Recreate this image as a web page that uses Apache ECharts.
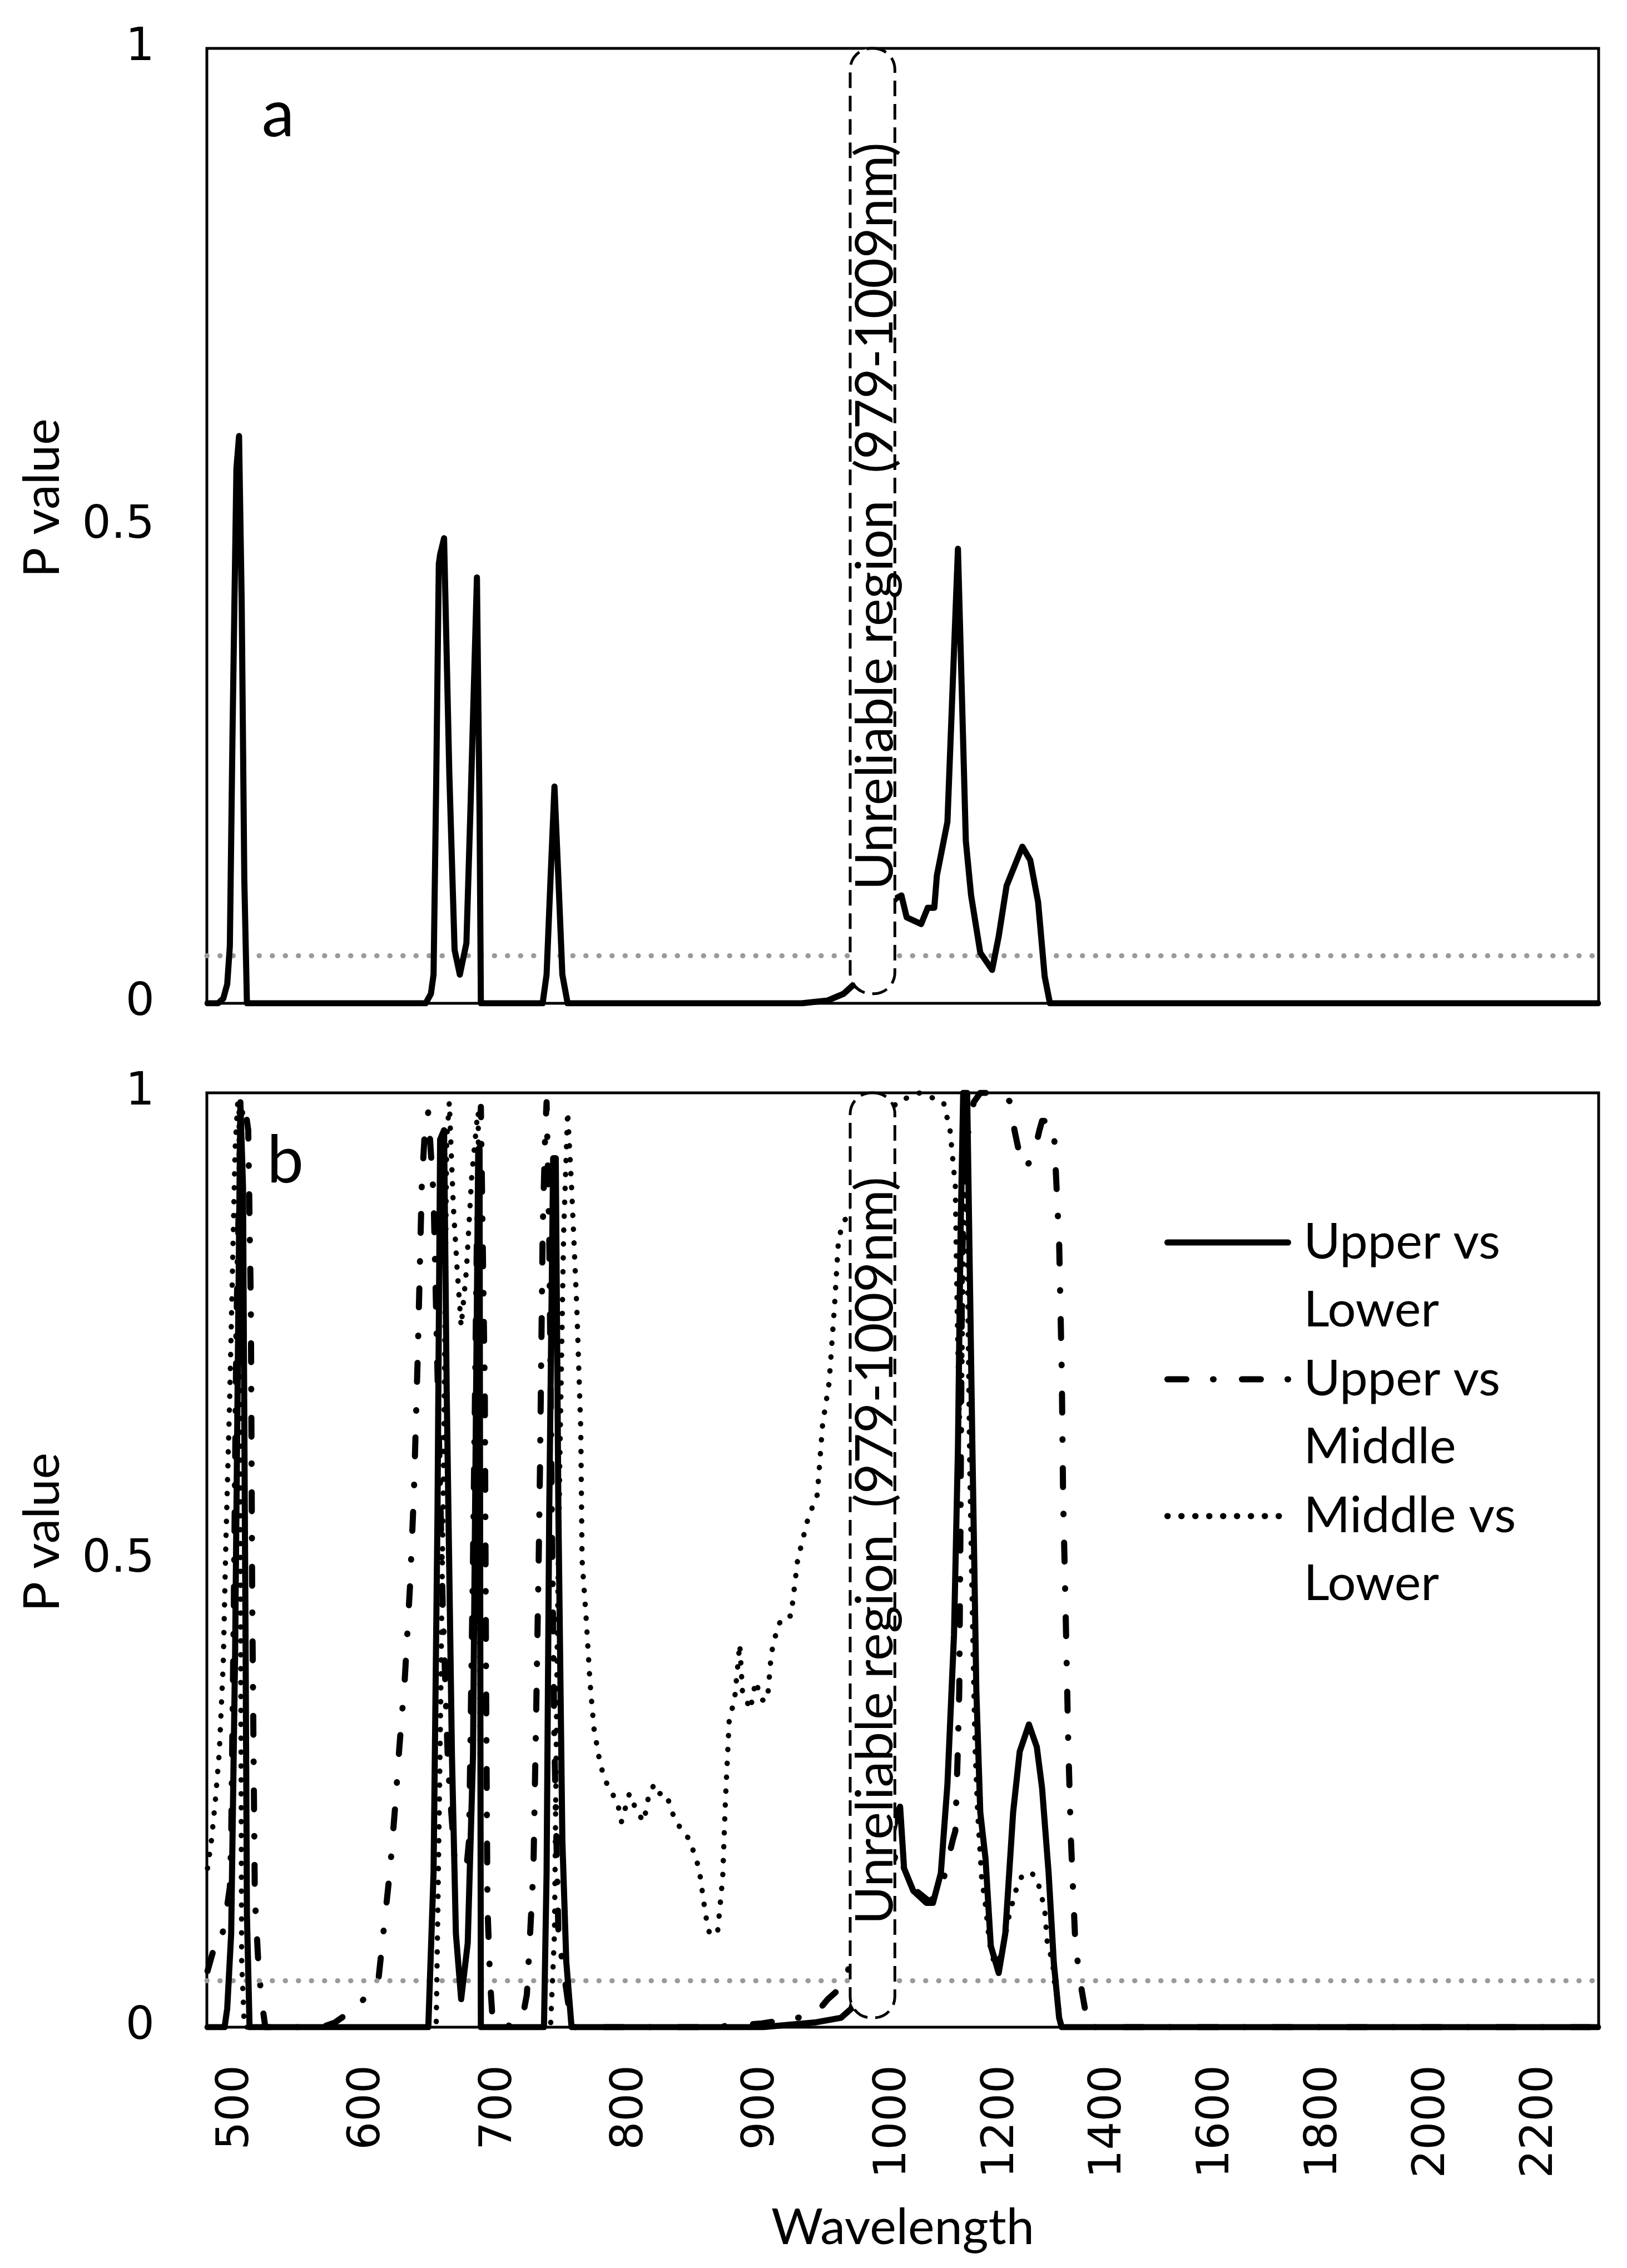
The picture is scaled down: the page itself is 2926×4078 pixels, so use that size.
<!DOCTYPE html>
<html>
<head>
<meta charset="utf-8">
<title>P value by wavelength</title>
<script src="https://cdn.jsdelivr.net/npm/echarts@6/dist/echarts.min.js"></script>
<style>
  html, body { margin: 0; padding: 0; background: #fff; }
  #main { width: 2926px; height: 4078px; }
</style>
</head>
<body>
<div id="main"></div>
<script>
// wavelength bands on the category axis: 1 nm steps below 1000 nm,
// 82 bands per 200 nm above (the sampling gets coarser there)
var bandStart = [478, 1000];
var bandEnd = [999, 2308];
var bandStep = [1, 200 / 82];
var tickLabels = [500, 600, 700, 800, 900, 1000, 1200, 1400, 1600, 1800, 2000, 2200];

var pThreshold = 0.05;
// where the "unreliable" box is drawn, and its label
var unreliableSpan = [967, 1002];
var unreliableText = 'Unreliable region  (979-1009nm)';

// panel a : [wavelength, p]
var panelA_upperLower = [
  [478, 0], [486, 0], [490, 0.005], [493, 0.02], [495, 0.06], [497, 0.28], [500, 0.56], [502, 0.594],
  [504, 0.42], [506, 0.13], [508, 0],
  [644, 0], [648, 0.01], [650, 0.03], [652, 0.23], [654, 0.46], [655, 0.47], [658, 0.487], [662, 0.24],
  [666, 0.056], [670, 0.03], [675, 0.063], [678, 0.2], [683, 0.446], [685, 0.2], [686, 0],
  [733, 0], [736, 0.03], [739, 0.13], [742, 0.227], [745, 0.13], [748, 0.03], [752, 0],
  [930, 0], [950, 0.003], [962, 0.01], [970, 0.02], [975, 0.015], [985, 0.05], [995, 0.1], [1005, 0.11],
  [1014, 0.113], [1024, 0.09], [1052, 0.083], [1064, 0.1], [1076, 0.1], [1080, 0.134], [1100, 0.19],
  [1120, 0.476], [1135, 0.17], [1145, 0.113], [1162, 0.053], [1184, 0.035], [1196, 0.07], [1210, 0.123],
  [1240, 0.164], [1254, 0.15], [1268, 0.106], [1280, 0.028], [1290, 0], [2308, 0]
];

// panel b
var panelB_upperLower = [
  [478, 0], [491, 0], [493, 0.02], [496, 0.1], [499, 0.4], [501, 0.7], [503, 0.99], [505, 0.9],
  [507, 0.4], [508, 0.12], [510, 0],
  [646, 0], [650, 0.165], [653, 0.55], [655, 0.95], [658, 0.96], [660, 0.68], [664, 0.29], [667, 0.1],
  [671, 0.03], [676, 0.09], [680, 0.29], [682, 0.62], [684, 0.94], [685, 0.94], [686, 0],
  [734, 0], [736, 0.165], [738, 0.55], [741, 0.93], [743, 0.93], [745, 0.55], [748, 0.2], [751, 0.07], [755, 0],
  [900, 0], [940, 0.005], [960, 0.01], [968, 0.02], [990, 0.15], [1008, 0.23], [1012, 0.236], [1019, 0.17],
  [1036, 0.146], [1060, 0.133], [1073, 0.133], [1088, 0.165], [1101, 0.26], [1112, 0.42], [1119, 0.62],
  [1125, 0.85], [1130, 1], [1137, 1], [1146, 0.62], [1153, 0.36], [1160, 0.23], [1170, 0.18], [1180, 0.087],
  [1194, 0.058], [1208, 0.1], [1221, 0.23], [1235, 0.295], [1252, 0.324], [1266, 0.3], [1276, 0.256],
  [1287, 0.165], [1297, 0.068], [1307, 0.01], [1312, 0], [2308, 0]
];

var panelB_upperMiddle = [
  [478, 0.06], [482, 0.08], [486, 0.08], [491, 0.11], [495, 0.15], [496, 0.2], [498, 0.45], [500, 0.75],
  [503, 0.97], [506, 0.99], [509, 0.96], [511, 0.77], [512, 0.46], [513, 0.3], [514, 0.14], [517, 0.06],
  [520, 0.02], [522, 0],
  [565, 0], [575, 0.005], [585, 0.015], [595, 0.027], [603, 0.04], [608, 0.05], [611, 0.09], [617, 0.17],
  [621, 0.24], [624, 0.3], [628, 0.37], [632, 0.47], [635, 0.57], [638, 0.72], [641, 0.9], [643, 0.95],
  [646, 0.98], [650, 0.89], [653, 0.7], [657, 0.45], [661, 0.28], [666, 0.18], [671, 0.17], [675, 0.17],
  [677, 0.2], [680, 0.5], [683, 0.85], [686, 0.985], [689, 0.68], [690, 0.36], [691, 0.13], [693, 0.05],
  [695, 0.006], [712, 0], [717, 0.01], [719, 0.02], [721, 0.035], [723, 0.087], [726, 0.17], [728, 0.33],
  [730, 0.5], [731, 0.6], [733, 0.85], [735, 0.96], [736, 0.99], [738, 0.85], [740, 0.55], [742, 0.3],
  [745, 0.1], [749, 0.06], [753, 0.02], [756, 0],
  [860, 0], [900, 0.004], [940, 0.013], [950, 0.03], [958, 0.04], [964, 0.05], [968, 0.08], [990, 0.15],
  [1010, 0.19], [1025, 0.16], [1045, 0.145], [1065, 0.135], [1080, 0.14], [1088, 0.146], [1098, 0.17],
  [1110, 0.2], [1115, 0.21], [1120, 0.3], [1122, 0.36], [1125, 0.55], [1128, 0.8], [1132, 0.93],
  [1140, 0.96], [1145, 0.97], [1150, 0.99], [1160, 1], [1200, 1], [1218, 0.99], [1225, 0.96], [1232, 0.94],
  [1245, 0.92], [1259, 0.93], [1270, 0.96], [1276, 0.97], [1290, 0.97], [1297, 0.96], [1303, 0.9],
  [1307, 0.84], [1311, 0.7], [1315, 0.57], [1320, 0.44], [1324, 0.3], [1330, 0.2], [1337, 0.1],
  [1345, 0.057], [1355, 0.017], [1362, 0], [2308, 0]
];

var panelB_middleLower = [
  [478, 0.17], [481, 0.2], [484, 0.243], [487, 0.295], [490, 0.39], [492, 0.52], [495, 0.68], [497, 0.81],
  [499, 0.94], [501, 0.99], [502, 0.99], [503, 0.52], [504, 0.07], [506, 0],
  [652, 0], [655, 0.3], [658, 0.65], [660, 0.95], [662, 0.99], [665, 0.88], [668, 0.81], [671, 0.75],
  [675, 0.81], [679, 0.91], [683, 0.97], [684, 0.98], [685, 0.5], [686, 0],
  [739, 0], [742, 0.1], [744, 0.4], [746, 0.6], [749, 0.85], [752, 0.98], [755, 0.9], [759, 0.77],
  [762, 0.64], [763, 0.5], [766, 0.44], [769, 0.37], [772, 0.32], [777, 0.28], [782, 0.26], [790, 0.24],
  [793, 0.22], [799, 0.25], [805, 0.23], [810, 0.22], [814, 0.25], [818, 0.26], [822, 0.25], [827, 0.25],
  [834, 0.22], [840, 0.21], [845, 0.2], [852, 0.17], [857, 0.12], [860, 0.1], [866, 0.1], [870, 0.16],
  [872, 0.24], [875, 0.33], [879, 0.35], [883, 0.41], [885, 0.36], [891, 0.34], [895, 0.37], [900, 0.35],
  [904, 0.35], [907, 0.4], [912, 0.43], [917, 0.44], [922, 0.44], [927, 0.5], [935, 0.545], [942, 0.57],
  [946, 0.645], [951, 0.69], [955, 0.77], [958, 0.84], [961, 0.86], [966, 0.87], [990, 0.95], [1005, 0.99],
  [1050, 1], [1093, 0.99], [1106, 0.96], [1114, 0.9], [1118, 0.8], [1121, 0.65], [1126, 0.7], [1132, 0.95],
  [1137, 0.85], [1142, 0.6], [1147, 0.44], [1152, 0.3], [1156, 0.23], [1164, 0.16], [1170, 0.13],
  [1177, 0.09], [1185, 0.072], [1191, 0.067], [1198, 0.075], [1205, 0.09], [1215, 0.12], [1226, 0.146],
  [1236, 0.16], [1245, 0.165], [1255, 0.165], [1266, 0.159], [1273, 0.144], [1280, 0.126], [1286, 0.09],
  [1294, 0.07], [1300, 0.04], [1304, 0.03], [1310, 0], [2308, 0]
];

// build the band list
var wavelengths = [];
for (var b = 0; b < bandStart.length; b++) {
  for (var k = 0; bandStart[b] + k * bandStep[b] <= bandEnd[b] + 1e-6; k++) {
    wavelengths.push(Math.round((bandStart[b] + k * bandStep[b]) * 100) / 100);
  }
}
var categories = wavelengths.map(String);

// nearest band for a read wavelength
function catOf(w) {
  var best = 0, d = Infinity;
  for (var i = 0; i < wavelengths.length; i++) {
    var dd = Math.abs(wavelengths[i] - w);
    if (dd < d) { d = dd; best = i; }
  }
  return categories[best];
}
function toSeries(pairs) {
  return pairs.map(function (p) { return [catOf(p[0]), p[1]]; });
}

var FONT = 'Lato';
var TICKFONT = 'DejaVu Sans';

var styles = {
  'Upper vs Lower': { color: '#000', width: 11, type: 'solid', join: 'round', cap: 'round' },
  'Upper vs Middle': { color: '#000', width: 11, type: [34, 48, 1, 51], join: 'round', cap: 'round' },
  'Middle vs Lower': { color: '#000', width: 9.5, type: [0.5, 24.5], join: 'round', cap: 'round' }
};

var thresholdLine = {
  symbol: 'none',
  silent: true,
  label: { show: false },
  lineStyle: { color: '#9a9a9a', width: 9, type: [0.5, 23], cap: 'round' },
  data: [{ yAxis: pThreshold }]
};

function mkSeries(name, pairs, idx, withThreshold) {
  var s = {
    name: name,
    type: 'line',
    xAxisIndex: idx,
    yAxisIndex: idx,
    symbol: 'none',
    color: '#000',
    animation: false,
    lineStyle: styles[name],
    data: toSeries(pairs)
  };
  if (withThreshold) {
    s.markLine = thresholdLine;
    s.z = 5;
  }
  return s;
}

function yAxisFor(idx) {
  return {
    type: 'value',
    gridIndex: idx,
    min: 0,
    max: 1,
    interval: 0.5,
    name: 'P value',
    nameLocation: 'middle',
    nameGap: 250,
    nameRotate: 90,
    nameTextStyle: { fontFamily: FONT, fontSize: 90, color: '#000', padding: [0, 0, 0, 100] },
    axisLine: { show: false },
    axisTick: { show: false },
    splitLine: { show: false },
    axisLabel: {
      margin: 94,
      fontFamily: TICKFONT,
      fontSize: 82,
      color: '#000',
      formatter: function (v) { return String(v); }
    }
  };
}

var chart = echarts.init(document.getElementById('main'), null, { renderer: 'canvas' });

var option = {
  backgroundColor: '#fff',
  animation: false,
  grid: [
    { left: 372, right: 51, top: 87, height: 1717, show: true, borderColor: '#000', borderWidth: 5, backgroundColor: 'transparent' },
    { left: 372, right: 51, top: 1965, height: 1680, show: true, borderColor: '#000', borderWidth: 5, backgroundColor: 'transparent' }
  ],
  xAxis: [
    {
      type: 'category',
      gridIndex: 0,
      data: categories,
      axisLine: { show: false },
      axisTick: { show: false },
      axisLabel: { show: false },
      splitLine: { show: false }
    },
    {
      type: 'category',
      gridIndex: 1,
      data: categories,
      name: 'Wavelength',
      nameLocation: 'middle',
      nameGap: 316,
      nameTextStyle: { fontFamily: FONT, fontSize: 90, color: '#000' },
      axisLine: { show: false },
      axisTick: { show: false },
      splitLine: { show: false },
      axisLabel: {
        rotate: 90,
        margin: 68,
        fontFamily: TICKFONT,
        fontSize: 80,
        color: '#000',
        hideOverlap: false,
        interval: function (i, value) { return tickLabels.indexOf(Number(value)) >= 0; }
      }
    }
  ],
  yAxis: [yAxisFor(0), yAxisFor(1)],
  legend: {
    orient: 'vertical',
    left: 2089,
    top: 2046,
    itemWidth: 217,
    itemHeight: 20,
    itemGap: -120,
    selectedMode: false,
    lineStyle: { width: 11 },
    itemStyle: { opacity: 0 },
    data: ['Upper vs Lower', 'Upper vs Middle', 'Middle vs Lower'],
    // leading blank line keeps the icon level with the first text line
    formatter: function (name) { return '\n' + name.replace(' vs ', ' vs\n'); },
    textStyle: { fontFamily: FONT, fontSize: 90, lineHeight: 122, color: '#000', padding: [0, 0, 0, 23] }
  },
  series: [
    mkSeries('Upper vs Lower', panelA_upperLower, 0, true),
    mkSeries('Upper vs Lower', panelB_upperLower, 1, true),
    mkSeries('Upper vs Middle', panelB_upperMiddle, 1, false),
    mkSeries('Middle vs Lower', panelB_middleLower, 1, false)
  ]
};

chart.setOption(option);

// dashed rounded box over the unreliable region, plus panel letters
function boxFor(gridIdx) {
  var x0 = chart.convertToPixel({ xAxisIndex: gridIdx }, catOf(unreliableSpan[0]));
  var x1 = chart.convertToPixel({ xAxisIndex: gridIdx }, catOf(unreliableSpan[1]));
  var yTop = chart.convertToPixel({ yAxisIndex: gridIdx }, 1);
  var yBot = chart.convertToPixel({ yAxisIndex: gridIdx }, 0.01);
  var yMid = chart.convertToPixel({ yAxisIndex: gridIdx }, 0.51);
  return [
    {
      type: 'rect',
      z: 100,
      shape: { x: x0, y: yTop, width: x1 - x0, height: yBot - yTop, r: 38 },
      style: { fill: '#fff', stroke: '#000', lineWidth: 5, lineDash: [28, 14] }
    },
    {
      type: 'text',
      z: 101,
      x: (x0 + x1) / 2 + 6,
      y: yMid,
      rotation: Math.PI / 2,
      style: {
        text: unreliableText,
        fontFamily: FONT,
        fontSize: 94,
        fill: '#000',
        align: 'center',
        verticalAlign: 'middle'
      }
    }
  ];
}

chart.setOption({
  graphic: boxFor(0).concat(boxFor(1)).concat([
    { type: 'text', z: 102, x: 500, y: 207, style: { text: 'a', fontFamily: FONT, fontSize: 118, fill: '#000', align: 'center', verticalAlign: 'middle' } },
    { type: 'text', z: 102, x: 513, y: 2088, style: { text: 'b', fontFamily: FONT, fontSize: 118, fill: '#000', align: 'center', verticalAlign: 'middle' } }
  ])
});
</script>
</body>
</html>
